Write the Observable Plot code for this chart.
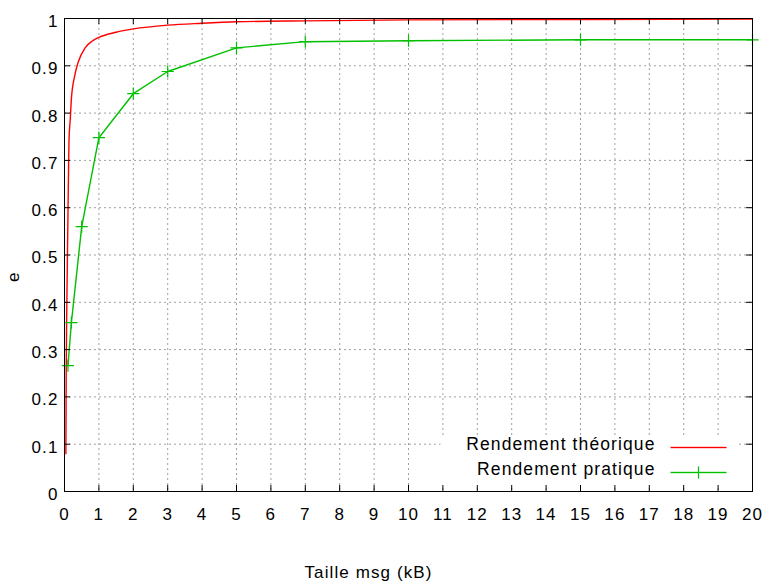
<!DOCTYPE html>
<html>
<head>
<meta charset="utf-8">
<script src="https://cdn.jsdelivr.net/npm/d3@7"></script>
<script src="https://cdn.jsdelivr.net/npm/@observablehq/plot@0.6"></script>
<style>
  html, body { margin: 0; padding: 0; background: #fff; }
  #chart svg { display: block; }
  [aria-label="legend-text"] text { letter-spacing: 1.5px; }
</style>
</head>
<body>
<div id="chart"></div>
<script>
// ---- data ----
const xTicks = [0,1,2,3,4,5,6,7,8,9,10,11,12,13,14,15,16,17,18,19,20];
const xTickLabels = ["0","1","2","3","4","5","6","7","8","9","10","11","12","13","14","15","16","17","18","19","20"];
const yTicks = [0,0.1,0.2,0.3,0.4,0.5,0.6,0.7,0.8,0.9,1];
const yTickLabels = ["0","0.1","0.2","0.3","0.4","0.5","0.6","0.7","0.8","0.9","1"];

const seriesNames = ["Rendement théorique", "Rendement pratique"];
const xLabel = "Taille msg (kB)";
const yLabel = "e";

// theoretical efficiency (red)
const theoX = [0.04, 0.05, 0.07, 0.1, 0.13, 0.17, 0.2, 0.3, 0.4, 0.6, 0.8, 1, 1.5, 2, 3, 4, 5, 7, 10, 15, 20];
const theoY = [0.08, 0.26, 0.41, 0.58, 0.74, 0.79, 0.83, 0.88, 0.908, 0.938, 0.952, 0.96, 0.971, 0.978, 0.986, 0.99, 0.993, 0.995, 0.997, 0.998, 0.999];

// practical efficiency (green, with + markers)
const pratX = [0.1, 0.2, 0.5, 1, 2, 3, 5, 7, 10, 15, 20];
const pratY = [0.266, 0.357, 0.56, 0.748, 0.841, 0.888, 0.938, 0.951, 0.953, 0.955, 0.955];

const theo = theoX.map((x, i) => ({x, y: theoY[i]}));
const prat = pratX.map((x, i) => ({x, y: pratY[i]}));

const RED = "#ff0000";
const GREEN = "#00c000";
const GRID = "#a0a0a0";

const W = 762, H = 588;
const mL = 64, mR = 10, mT = 18, mB = 97;
const plotW = W - mL - mR, plotH = H - mT - mB;
const TL = 6; // tick length

const chart = Plot.plot({
  width: W,
  height: H,
  marginLeft: mL,
  marginRight: mR,
  marginTop: mT,
  marginBottom: mB,
  x: {domain: [0, 20]},
  y: {domain: [0, 1]},
  style: {
    fontFamily: "'Liberation Sans', Arial, sans-serif",
    fontSize: "17px",
    letterSpacing: "1.1px",
    background: "#fff",
    color: "#000"
  },
  marks: [
    // grid
    Plot.ruleX(xTicks, {x: d => d, stroke: GRID, strokeDasharray: "2,3"}),
    Plot.ruleY(yTicks, {y: d => d, stroke: GRID, strokeDasharray: "2,3"}),
    // legend background box
    Plot.frame({fill: "#fff", stroke: null, insetLeft: 376, insetRight: 14, insetTop: 418, insetBottom: 4}),
    // data
    Plot.line(theo, {x: "x", y: "y", stroke: RED, strokeWidth: 1.4, curve: "monotone-x"}),
    Plot.line(prat, {x: "x", y: "y", stroke: GREEN, strokeWidth: 1.4}),
    Plot.dot(prat, {x: "x", y: "y", symbol: "plus", r: 4, stroke: GREEN, strokeWidth: 1.2}),
    // inward ticks (bottom, top, left, right)
    Plot.ruleX(xTicks, {x: d => d, stroke: "#000", insetTop: plotH - TL}),
    Plot.ruleX(xTicks, {x: d => d, stroke: "#000", insetBottom: plotH - TL}),
    Plot.ruleY(yTicks, {y: d => d, stroke: "#000", insetRight: plotW - TL}),
    Plot.ruleY(yTicks, {y: d => d, stroke: "#000", insetLeft: plotW - TL}),
    // frame
    Plot.frame({stroke: "#000", strokeWidth: 1}),
    // axes labels
    Plot.axisX({ticks: xTicks, tickSize: 0, tickPadding: 16, label: null,
      tickFormat: d => xTickLabels[xTicks.indexOf(d)]}),
    Plot.axisY({ticks: yTicks, tickSize: 0, tickPadding: 6, label: null, dy: 3,
      tickFormat: d => yTickLabels[yTicks.indexOf(d)]}),
    Plot.text([xLabel], {text: d => d, frameAnchor: "bottom", dx: -40, dy: 86}),
    Plot.text([yLabel], {text: d => d, frameAnchor: "left", dx: -51, dy: 27, rotate: -90}),
    // legend
    Plot.text([seriesNames[0]], {text: d => d, frameAnchor: "bottom-right", textAnchor: "end", dx: -97, dy: -42, fontSize: 17.5, ariaLabel: "legend-text"}),
    Plot.text([seriesNames[1]], {text: d => d, frameAnchor: "bottom-right", textAnchor: "end", dx: -97, dy: -17, fontSize: 17.5, ariaLabel: "legend-text"}),
    Plot.frame({fill: RED, stroke: null, insetLeft: plotW - 82, insetRight: 26, insetTop: plotH - 44.7, insetBottom: 43.3}),
    Plot.frame({fill: GREEN, stroke: null, insetLeft: plotW - 82, insetRight: 26, insetTop: plotH - 19.7, insetBottom: 18.3}),
    Plot.dot([seriesNames[1]], {frameAnchor: "bottom-right", dx: -54, dy: -19, symbol: "plus", r: 4, stroke: GREEN, strokeWidth: 1.2})
  ]
});

document.getElementById("chart").appendChild(chart);
</script>
</body>
</html>
